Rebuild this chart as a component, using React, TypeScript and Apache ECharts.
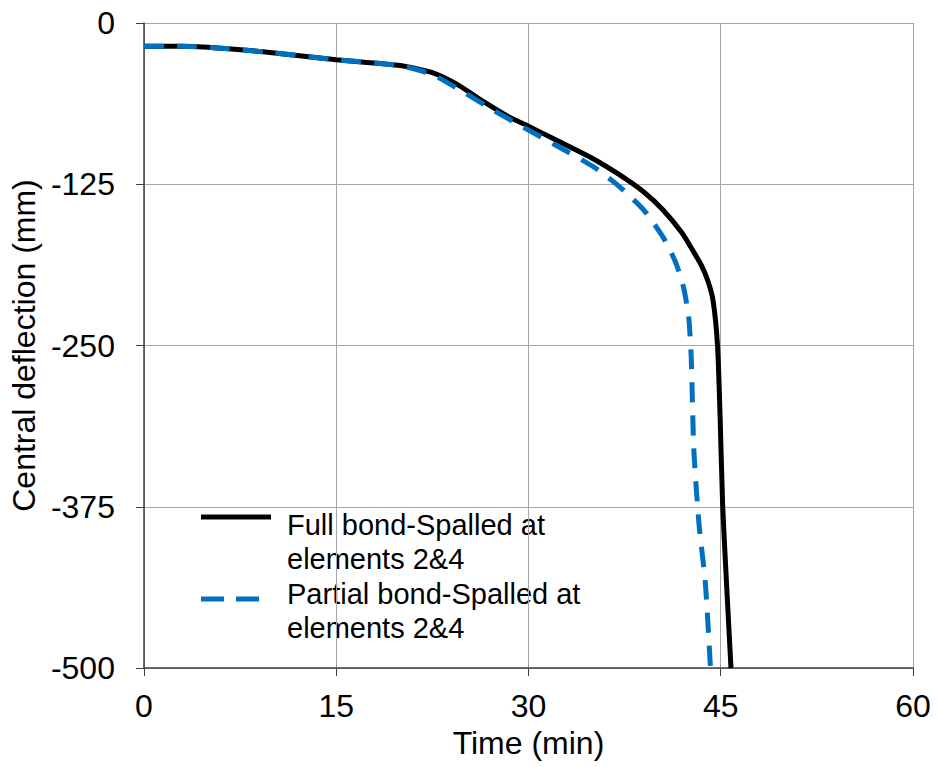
import React, { useEffect, useRef } from "react";
import * as echarts from "echarts";

const xTicks = [0, 15, 30, 45, 60];
const yTicks = [0, -125, -250, -375, -500];

const fullTime = [0, 3, 6, 10, 15, 20, 22.5, 24.5, 26.5, 28.5, 30, 32, 35, 37, 39, 40.5, 42, 42.8, 43.5, 44.0, 44.4, 44.75, 44.95, 45.15, 45.45, 45.8];
const fullDefl = [-18, -18, -19.5, -23, -28.5, -33, -38.5, -48, -61, -73, -80, -90, -105, -117, -131, -145, -163, -176, -188, -200, -215, -250, -305, -374, -434, -500];

const partialTime = [0, 3, 6, 10, 15, 20, 22.5, 25, 27.5, 30, 32, 35, 37, 39, 40.5, 41.5, 42.1, 42.5, 42.7, 42.9, 43.3, 43.8, 44.2];
const partialDefl = [-18, -18, -19.5, -23, -28.5, -33, -40, -54, -69, -83, -94, -111, -126, -145, -166, -186, -205, -228, -260, -331, -388, -434, -500];

const seriesNames = ["Full bond-Spalled at elements 2&4", "Partial bond-Spalled at elements 2&4"];
const legendLines = [
  ["Full bond-Spalled at", "elements 2&4"],
  ["Partial bond-Spalled at", "elements 2&4"],
];
const FONT = "'Liberation Sans', Arial, sans-serif";

export default function App() {
  const ref = useRef<HTMLDivElement>(null);
  useEffect(() => {
    if (!ref.current) return;
    const chart = echarts.init(ref.current, undefined, { renderer: "svg" });
    const pair = (xs: number[], ys: number[]) => xs.map((x, i) => [x, ys[i]]);
    const textEl = (text: string, y: number) => ({
      type: "text",
      x: 287,
      y,
      style: { text, fontSize: 29, lineHeight: 34, fill: "#000", fontFamily: FONT, verticalAlign: "top" },
    });
    chart.setOption({
      animation: false,
      backgroundColor: "#fff",
      grid: { left: 141, right: 25, top: 23, bottom: 99, containLabel: false },
      xAxis: {
        type: "value",
        min: xTicks[0],
        max: xTicks[xTicks.length - 1],
        interval: 15,
        position: "bottom",
        name: "Time (min)",
        nameLocation: "middle",
        nameGap: 55,
        nameTextStyle: { fontSize: 32, color: "#000", fontFamily: FONT },
        axisLine: { onZero: false, lineStyle: { color: "#404040", width: 1.5 } },
        axisTick: { show: true, inside: false, length: 8, lineStyle: { color: "#404040" } },
        axisLabel: { fontSize: 32, color: "#000", fontFamily: FONT, margin: 22 },
        splitLine: { show: true, lineStyle: { color: "#a6a6a6", width: 1 } },
      },
      yAxis: {
        type: "value",
        min: yTicks[yTicks.length - 1],
        max: yTicks[0],
        interval: 125,
        name: "Central deflection (mm)",
        nameLocation: "middle",
        nameGap: 101,
        nameTextStyle: { fontSize: 32, color: "#000", fontFamily: FONT },
        axisLine: { show: true, lineStyle: { color: "#404040", width: 1.5 } },
        axisTick: { show: true, inside: false, length: 8, lineStyle: { color: "#404040" } },
        axisLabel: { fontSize: 32, color: "#000", fontFamily: FONT, margin: 29 },
        splitLine: { show: true, lineStyle: { color: "#a6a6a6", width: 1 } },
      },
      series: [
        {
          name: seriesNames[0],
          type: "line",
          data: pair(fullTime, fullDefl),
          showSymbol: false,
          smooth: 0.2,
          lineStyle: { color: "#000", width: 5 },
          z: 3,
        },
        {
          name: seriesNames[1],
          type: "line",
          data: pair(partialTime, partialDefl),
          showSymbol: false,
          smooth: 0.2,
          lineStyle: { color: "#0070C0", width: 5, type: [20, 13] },
          z: 4,
        },
      ],
      graphic: [
        {
          type: "line",
          shape: { x1: 201, y1: 517, x2: 271, y2: 517 },
          style: { stroke: "#000", lineWidth: 5 },
        },
        textEl(legendLines[0][0], 508),
        textEl(legendLines[0][1], 542),
        {
          type: "line",
          shape: { x1: 201, y1: 599, x2: 271, y2: 599 },
          style: { stroke: "#0070C0", lineWidth: 5, lineDash: [23, 12] },
        },
        textEl(legendLines[1][0], 577),
        textEl(legendLines[1][1], 611),
      ],
    });
    return () => chart.dispose();
  }, []);
  return <div ref={ref} style={{ position: "fixed", left: 0, top: 0, width: 938, height: 767 }} />;
}
